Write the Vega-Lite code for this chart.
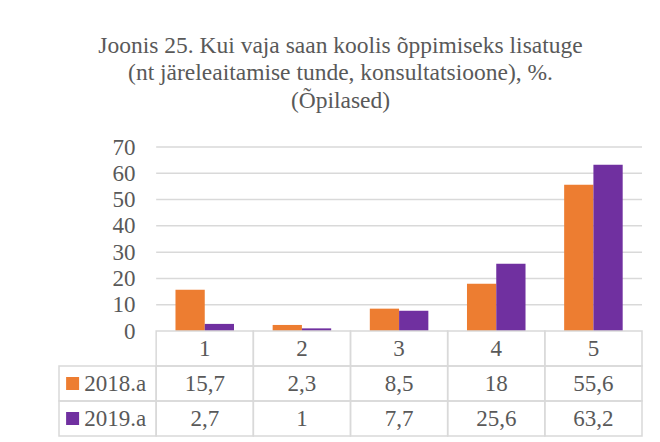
{
  "$schema": "https://vega.github.io/schema/vega-lite/v6.json",
  "padding": {"left": 58, "top": 33, "right": 5, "bottom": 4},
  "background": "white",
  "bounds": "flush",
  "config": {
    "font": "Liberation Serif",
    "view": {"stroke": null},
    "axisY": {"labelOverlap": false, "labelFont": "Liberation Serif", "labelFontSize": 23, "labelColor": "#595959",
              "grid": false, "domain": false, "ticks": false, "tickSize": 0, "labelPadding": 20, "offset": -96},
    "locale": {"number": {"decimal": ",", "thousands": " ", "grouping": [3], "currency": ["", " €"]}}
  },
  "title": {
    "text": ["Joonis 25. Kui vaja saan koolis õppimiseks lisatuge", "(nt järeleaitamise tunde, konsultatsioone), %.", "(Õpilased)"],
    "font": "Liberation Serif",
    "fontSize": 23.5,
    "fontWeight": "normal",
    "lineHeight": 27.5,
    "color": "#595959",
    "anchor": "middle",
    "dx": -10,
    "offset": 24
  },
  "datasets": {
    "vals": [
      {"cat": "1", "series": "2018.a", "value": 15.7},
      {"cat": "2", "series": "2018.a", "value": 2.3},
      {"cat": "3", "series": "2018.a", "value": 8.5},
      {"cat": "4", "series": "2018.a", "value": 18},
      {"cat": "5", "series": "2018.a", "value": 55.6},
      {"cat": "1", "series": "2019.a", "value": 2.7},
      {"cat": "2", "series": "2019.a", "value": 1},
      {"cat": "3", "series": "2019.a", "value": 7.7},
      {"cat": "4", "series": "2019.a", "value": 25.6},
      {"cat": "5", "series": "2019.a", "value": 63.2}
    ],
    "grid": [{"v": 10}, {"v": 20}, {"v": 30}, {"v": 40}, {"v": 50}, {"v": 60}, {"v": 70}],
    "cats": [{"cat": "1"}, {"cat": "2"}, {"cat": "3"}, {"cat": "4"}, {"cat": "5"}],
    "legend": [{"series": "2018.a"}, {"series": "2019.a"}]
  },
  "spacing": 0,
  "vconcat": [
    {
      "width": 583,
      "height": 184,
      "layer": [
        {
          "data": {"name": "grid"},
          "mark": {"type": "rule", "color": "#d9d9d9", "strokeWidth": 1.5},
          "encoding": {
            "x": {"datum": "1", "type": "nominal", "bandPosition": 0,
                  "scale": {"domain": ["L", "1", "2", "3", "4", "5"], "paddingInner": 0, "paddingOuter": 0},
                  "axis": null},
            "x2": {"datum": "5", "bandPosition": 1},
            "y": {"field": "v", "type": "quantitative",
                  "scale": {"domain": [0, 70], "nice": false, "zero": true},
                  "axis": {"values": [0, 10, 20, 30, 40, 50, 60, 70], "labelOverlap": false, "title": null}}
          }
        },
        {
          "data": {"name": "vals"},
          "mark": {"type": "bar"},
          "encoding": {
            "x": {"field": "cat", "type": "nominal", "axis": null},
            "xOffset": {"field": "series", "type": "nominal",
                        "scale": {"domain": ["2018.a", "2019.a"], "paddingInner": 0, "paddingOuter": 0.66}},
            "y": {"field": "value", "type": "quantitative",
                  "axis": {"values": [0, 10, 20, 30, 40, 50, 60, 70], "labelOverlap": false, "title": null}},
            "color": {"field": "series", "type": "nominal",
                      "scale": {"domain": ["2018.a", "2019.a"], "range": ["#ED7D31", "#7030A0"]},
                      "legend": null}
          }
        }
      ]
    },
    {
      "width": 583,
      "height": 105,
      "layer": [
        {
          "data": {"name": "cats"},
          "mark": {"type": "rect", "fillOpacity": 0, "stroke": "#d9d9d9", "strokeWidth": 1.5},
          "encoding": {
            "x": {"field": "cat", "type": "nominal",
                  "scale": {"domain": ["L", "1", "2", "3", "4", "5"], "paddingInner": 0, "paddingOuter": 0},
                  "axis": null},
            "y": {"datum": "h", "type": "nominal",
                  "scale": {"domain": ["h", "2018.a", "2019.a"], "paddingInner": 0, "paddingOuter": 0},
                  "axis": null}
          }
        },
        {
          "data": {"name": "vals"},
          "mark": {"type": "rect", "fillOpacity": 0, "stroke": "#d9d9d9", "strokeWidth": 1.5},
          "encoding": {
            "x": {"field": "cat", "type": "nominal"},
            "y": {"field": "series", "type": "nominal"}
          }
        },
        {
          "data": {"name": "legend"},
          "mark": {"type": "rect", "fillOpacity": 0, "stroke": "#d9d9d9", "strokeWidth": 1.5},
          "encoding": {
            "x": {"datum": "L", "type": "nominal"},
            "y": {"field": "series", "type": "nominal"}
          }
        },
        {
          "data": {"name": "cats"},
          "mark": {"type": "text", "font": "Liberation Serif", "fontSize": 23, "color": "#595959"},
          "encoding": {
            "x": {"field": "cat", "type": "nominal"},
            "y": {"datum": "h", "type": "nominal"},
            "text": {"field": "cat"}
          }
        },
        {
          "data": {"name": "vals"},
          "mark": {"type": "text", "font": "Liberation Serif", "fontSize": 23, "color": "#595959"},
          "encoding": {
            "x": {"field": "cat", "type": "nominal"},
            "y": {"field": "series", "type": "nominal"},
            "text": {"field": "value", "type": "quantitative", "format": ".1~f"}
          }
        },
        {
          "data": {"name": "legend"},
          "mark": {"type": "text", "font": "Liberation Serif", "fontSize": 23, "color": "#595959", "align": "left"},
          "encoding": {
            "x": {"datum": "L", "type": "nominal", "bandPosition": 0.26},
            "y": {"field": "series", "type": "nominal"},
            "text": {"field": "series"}
          }
        },
        {
          "data": {"name": "legend"},
          "mark": {"type": "square", "size": 169, "opacity": 1, "filled": true},
          "encoding": {
            "x": {"datum": "L", "type": "nominal", "bandPosition": 0.14},
            "y": {"field": "series", "type": "nominal"},
            "color": {"field": "series", "type": "nominal",
                      "scale": {"domain": ["2018.a", "2019.a"], "range": ["#ED7D31", "#7030A0"]},
                      "legend": null}
          }
        }
      ]
    }
  ]
}
